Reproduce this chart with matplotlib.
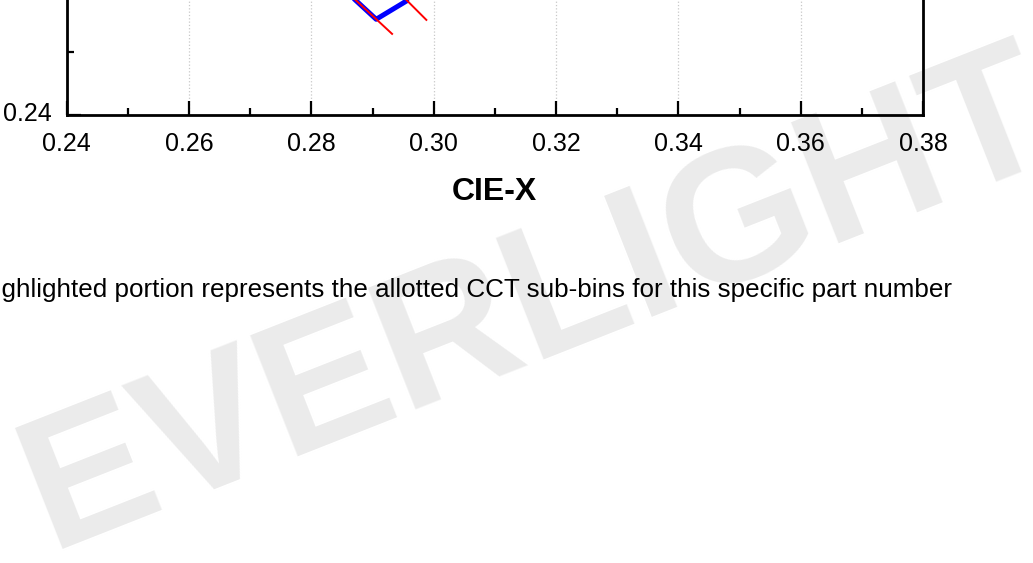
import matplotlib
matplotlib.use("Agg")
import matplotlib.pyplot as plt
import matplotlib.transforms as mtransforms
from matplotlib.ticker import MultipleLocator

plt.rcParams['font.family'] = ['Liberation Sans', 'DejaVu Sans']

# CCT sub-bin outline (CIE x, y)
bin_x = [0.2826, 0.2906, 0.2956, 0.2900, 0.2826]
bin_y = [0.2622, 0.2551, 0.2580, 0.2633, 0.2622]

# isotherm lines bounding the bin
iso1_x = [0.2802, 0.2932]
iso1_y = [0.2644, 0.2528]
iso2_x = [0.2879, 0.2988]
iso2_y = [0.2655, 0.2550]

xlim = (0.24, 0.38)
ylim = (0.24, 0.38)
note = "Highlighted portion represents the allotted CCT sub-bins for this specific part number"

fig = plt.figure(figsize=(10.33, 5.63), dpi=100)
W, H = 1033, 563

# the page is cropped: axes runs above the top of the image
left, right, bottom = 66.7, 923, 115.3
height = 63.6 * 14
ax = fig.add_axes([left / W, 1 - bottom / H, (right - left) / W, height / H])
ax.set_facecolor('none')

fig.text(538 / W, 1 - 304 / H, "EVERLIGHT", rotation=21.5, fontsize=137,
         fontweight='bold', color='#ebebeb', ha='center', va='center', zorder=-1)

ax.plot(bin_x, bin_y, color='blue', lw=3.6, solid_joinstyle='round',
        solid_capstyle='round', zorder=3)
ax.plot(iso1_x, iso1_y, color='red', lw=1.4, zorder=4)
ax.plot(iso2_x, iso2_y, color='red', lw=1.4, zorder=4)

ax.set_xlim(*xlim)
ax.set_ylim(*ylim)
ax.xaxis.set_major_locator(MultipleLocator(0.02))
ax.xaxis.set_minor_locator(MultipleLocator(0.01))
ax.yaxis.set_major_locator(MultipleLocator(0.02))
ax.yaxis.set_minor_locator(MultipleLocator(0.01))
ax.xaxis.set_major_formatter(lambda v, p: f"{v:.2f}")
# only the bottom y label is inside the cropped page
ax.yaxis.set_major_formatter(lambda v, p: f"{v:.2f}" if v < 0.25 else "")
ax.grid(True, which='major', color='#c8c8c8', ls=':', lw=0.9)
ax.set_axisbelow(True)

for s in ax.spines.values():
    s.set_linewidth(2)
ax.tick_params(which='both', direction='in', width=1.6, labelsize=18,
               top=False, right=False)
ax.tick_params(which='major', length=10, pad=12)
ax.tick_params(which='minor', length=5)
ax.tick_params(axis='y', pad=11)

# nudge the y label up a little, as in the original
shift = mtransforms.ScaledTranslation(0, 3 / 72, fig.dpi_scale_trans)
for t in ax.yaxis.get_major_ticks():
    t.label1.set_transform(t.label1.get_transform() + shift)

ax.set_xlabel("CIE-X", fontsize=23, fontweight='bold', labelpad=15.5)

fig.text(952 / W, 1 - 297 / H, note, fontsize=18.75, ha='right', va='baseline')

fig.savefig("out.png", dpi=100)
